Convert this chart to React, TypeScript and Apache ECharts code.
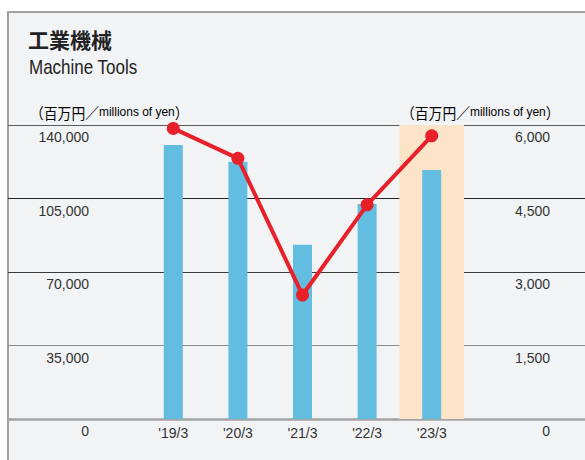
import React, { useEffect, useRef } from "react";
import * as echarts from "echarts";

const categories = ["'19/3", "'20/3", "'21/3", "'22/3", "'23/3"];
const barValues = [130500, 122500, 83000, 102400, 118600];
const lineValues = [5930, 5320, 2530, 4370, 5780];
const highlightCategory = "'23/3";

const LATIN = "'Liberation Sans', Arial, sans-serif";
const CJK = "'Noto Sans CJK JP', sans-serif";

export default function App() {
  const ref = useRef<HTMLDivElement>(null);
  useEffect(() => {
    if (!ref.current) return;
    const chart = echarts.init(ref.current, undefined, { renderer: "svg" });
    const unitRich = {
      c: { fontFamily: CJK, fontSize: 15, color: "#333" },
      l: { fontFamily: LATIN, fontSize: 13, color: "#333" },
    };
    const unitText = "{c|（百万円／}{l|millions of yen}{c|）}";
    const fmt = (v: number) => v.toLocaleString("en-US");
    chart.setOption({
      animation: false,
      graphic: [
        {
          type: "rect",
          z: -100,
          shape: { x: 8, y: 12, width: 600, height: 470 },
          style: { fill: "#f2f3f5", stroke: "#a0a0a0", lineWidth: 2 },
        },
        {
          type: "text",
          x: 28,
          y: 39,
          style: {
            text: "工業機械",
            fontFamily: CJK,
            fontWeight: "bold",
            fontSize: 21,
            fill: "#222",
            verticalAlign: "middle",
          },
        },
        {
          type: "text",
          x: 29,
          y: 67,
          scaleX: 0.85,
          style: {
            text: "Machine Tools",
            fontFamily: LATIN,
            fontSize: 20,
            fill: "#222",
            verticalAlign: "middle",
          },
        },
        {
          type: "text",
          x: 30,
          y: 112,
          scaleX: 0.92,
          style: { text: unitText, rich: unitRich, verticalAlign: "middle" },
        },
        {
          type: "text",
          x: 401,
          y: 112,
          scaleX: 0.92,
          style: { text: unitText, rich: unitRich, verticalAlign: "middle" },
        },
      ],
      grid: [
        { left: 8, right: 0, top: 125, bottom: 41 },
        { left: 141, right: 121, top: 125, bottom: 41 },
      ],
      xAxis: [
        {
          gridIndex: 0,
          type: "value",
          min: 0,
          max: 1,
          axisLine: { show: true, lineStyle: { color: "#a3a3a3", width: 2.5 } },
          axisTick: { show: false },
          axisLabel: { show: false },
          splitLine: { show: false },
        },
        {
          gridIndex: 1,
          type: "category",
          data: categories,
          axisLine: { show: false },
          axisTick: { show: false },
          axisLabel: {
            margin: 7,
            fontFamily: LATIN,
            fontSize: 14,
            color: "#333",
          },
          splitLine: { show: false },
        },
      ],
      yAxis: [
        {
          gridIndex: 0,
          type: "value",
          position: "left",
          min: 0,
          max: 140000,
          interval: 35000,
          axisLine: { show: false },
          axisTick: { show: false },
          axisLabel: {
            inside: true,
            margin: 81,
            align: "right",
            verticalAlign: "top",
            padding: [5, 0, 0, 0],
            fontFamily: LATIN,
            fontSize: 14,
            color: "#333",
            formatter: fmt,
          },
          splitLine: {
            show: true,
            lineStyle: {
              color: ["#a3a3a3", "#8a8a8a", "#3a3a3a", "#222222", "#5a5a5a"],
              width: 1.2,
            },
          },
        },
        {
          gridIndex: 0,
          type: "value",
          position: "right",
          min: 0,
          max: 6000,
          interval: 1500,
          axisLine: { show: false },
          axisTick: { show: false },
          axisLabel: {
            inside: true,
            margin: 35,
            align: "right",
            verticalAlign: "top",
            padding: [5, 0, 0, 0],
            fontFamily: LATIN,
            fontSize: 14,
            color: "#333",
            formatter: fmt,
          },
          splitLine: { show: false },
        },
        {
          gridIndex: 1,
          type: "value",
          min: 0,
          max: 140000,
          interval: 35000,
          show: false,
          splitLine: { show: false },
        },
        {
          gridIndex: 1,
          type: "value",
          position: "right",
          min: 0,
          max: 6000,
          interval: 1500,
          show: false,
          splitLine: { show: false },
        },
      ],
      series: [
        {
          type: "bar",
          xAxisIndex: 1,
          yAxisIndex: 2,
          data: barValues,
          barWidth: 19,
          itemStyle: { color: "#63bde1" },
          markArea: {
            silent: true,
            itemStyle: { color: "#fde4c9" },
            data: [[{ xAxis: highlightCategory }, { xAxis: highlightCategory }]],
          },
        },
        {
          type: "line",
          xAxisIndex: 1,
          yAxisIndex: 3,
          data: lineValues,
          symbol: "circle",
          symbolSize: 13,
          lineStyle: { color: "#e8202a", width: 4 },
          itemStyle: { color: "#e8202a" },
          z: 5,
        },
      ],
    });
    return () => chart.dispose();
  }, []);
  return (
    <div
      ref={ref}
      style={{ position: "absolute", left: 0, top: 0, width: 585, height: 460 }}
    />
  );
}
